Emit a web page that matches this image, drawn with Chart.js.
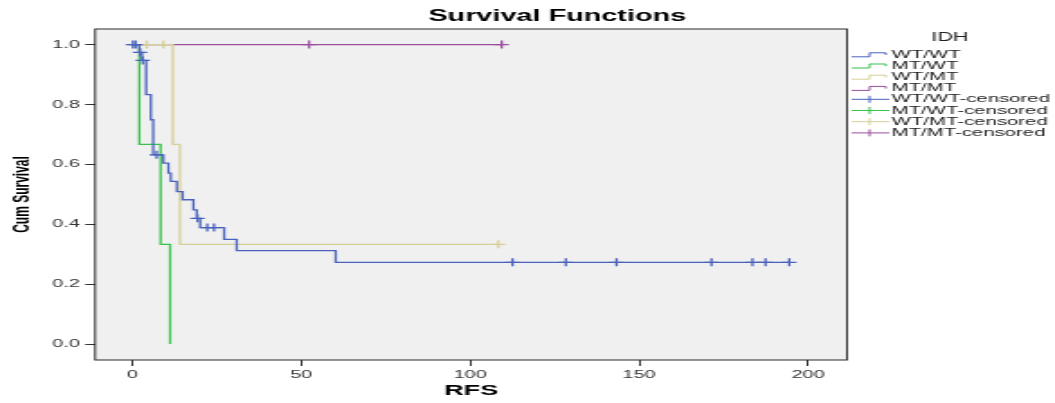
<!DOCTYPE html>
<html>
<head>
<meta charset="utf-8">
<script src="https://cdn.jsdelivr.net/npm/chart.js@4.4.1/dist/chart.umd.min.js"></script>
<style>
  html, body { margin: 0; padding: 0; background: #fff; overflow: hidden; }
  #wrap { width: 1055px; height: 403px; overflow: hidden; }
  /* the chart is laid out narrow and stretched sideways to the page width */
  #km { display: block; transform: scaleX(1.8003); transform-origin: 0 0; }
</style>
</head>
<body>
<div id="wrap"><canvas id="km" width="586" height="403"></canvas></div>
<script>
const FONT = '"Liberation Sans", Arial, Helvetica, sans-serif';
const NARROW = '"Liberation Sans Narrow", "Arial Narrow", "Liberation Sans", Arial, sans-serif';

const groups = ['WT/WT', 'MT/WT', 'WT/MT', 'MT/MT'];
const colors = ['#4a62bd', '#37c24b', '#d7cf98', '#9b4ea0'];

// Kaplan-Meier steps: time of each drop and the survival right after it
const wtwtTime = [0, 2.1, 2.9, 4.1, 5.5, 6.2, 9.2, 10.7, 11.4, 13.2, 14.9, 18.1, 19.1, 20.1, 27.2, 30.9, 60.2, 194.4];
const wtwtSurv = [1, 0.974, 0.947, 0.833, 0.749, 0.632, 0.604, 0.571, 0.543, 0.509, 0.482, 0.448, 0.420, 0.389, 0.350, 0.312, 0.273, 0.273];
const mtwtTime = [0, 2.1, 8.4, 11.2];
const mtwtSurv = [1, 0.667, 0.333, 0];
const wtmtTime = [0, 12.0, 14.1, 108.3];
const wtmtSurv = [1, 0.667, 0.333, 0.333];
const mtmtTime = [0, 109.3];
const mtmtSurv = [1, 1];

// censored cases
const wtwtCensTime = [0.2, 1.0, 2.3, 3.1, 7.2, 19.3, 22.2, 24.2, 112.5, 128.3, 143.3, 171.4, 183.5, 187.4, 194.4];
const wtwtCensSurv = [1, 1, 0.974, 0.947, 0.632, 0.420, 0.389, 0.389, 0.273, 0.273, 0.273, 0.273, 0.273, 0.273, 0.273];
const mtwtCensTime = [];
const mtwtCensSurv = [];
const wtmtCensTime = [4.3, 9.2, 108.3];
const wtmtCensSurv = [1, 1, 0.333];
const mtmtCensTime = [52.3, 109.3];
const mtmtCensSurv = [1, 1];

const xTicks = [0, 50, 100, 150, 200];
const yTicks = [0, 0.2, 0.4, 0.6, 0.8, 1.0];

const pts = (t, s) => t.map((v, i) => ({ x: v, y: s[i] }));

const curves = [[wtwtTime, wtwtSurv], [mtwtTime, mtwtSurv], [wtmtTime, wtmtSurv], [mtmtTime, mtmtSurv]];
const censored = [[wtwtCensTime, wtwtCensSurv], [mtwtCensTime, mtwtCensSurv], [wtmtCensTime, wtmtCensSurv], [mtmtCensTime, mtmtCensSurv]];

const datasets = [];
censored.forEach(([t, s], i) => datasets.push({
  type: 'scatter',
  label: groups[i] + '-censored',
  data: pts(t, s),
  showLine: false,
  pointStyle: 'cross',
  pointRadius: 4,
  pointHoverRadius: 4,
  pointBorderWidth: 1.3,
  pointBorderColor: colors[i],
  pointBackgroundColor: colors[i],
  order: i
}));
curves.forEach(([t, s], i) => datasets.push({
  type: 'line',
  label: groups[i],
  data: pts(t, s),
  stepped: true,
  borderColor: colors[i],
  borderWidth: 1.3,
  pointRadius: 0,
  fill: false,
  order: 10 + i
}));

// plot background, frame, title and the IDH legend
const decor = {
  id: 'decor',
  beforeDraw(chart) {
    const { ctx, chartArea: a } = chart;
    ctx.save();
    ctx.fillStyle = '#fff';
    ctx.fillRect(0, 0, chart.width, chart.height);
    ctx.fillStyle = '#f0f0f0';
    ctx.fillRect(a.left, a.top, a.right - a.left, a.bottom - a.top);
    ctx.restore();
  },
  afterDraw(chart) {
    const { ctx, chartArea: a } = chart;
    ctx.save();
    ctx.strokeStyle = '#2b2b2b';
    ctx.lineWidth = 1;
    ctx.strokeRect(a.left, a.top, a.right - a.left, a.bottom - a.top);

    ctx.fillStyle = '#000';
    ctx.textAlign = 'center';
    ctx.textBaseline = 'middle';
    ctx.font = 'bold 16px ' + FONT;
    ctx.fillText('Survival Functions', 309.5, 17);

    ctx.fillStyle = '#222';
    ctx.font = '12px ' + FONT;
    ctx.fillText('IDH', 527.7, 38);

    const x0 = 473, x1 = 494, y0 = 54.5, dy = 11.2;
    ctx.font = '11.3px ' + FONT;
    ctx.textAlign = 'left';
    ctx.lineWidth = 1;
    groups.forEach((g, i) => {
      const y = y0 + dy * i;
      ctx.strokeStyle = colors[i];
      ctx.beginPath();
      ctx.moveTo(x0, y + 2.3);
      ctx.lineTo(483, y + 2.3);
      ctx.lineTo(483, y - 1.7);
      ctx.lineTo(492, y - 1.7);
      ctx.lineTo(492, y + 0.5);
      ctx.stroke();
      ctx.fillStyle = '#222';
      ctx.fillText(g, 495.3, y);
    });
    groups.forEach((g, i) => {
      const y = y0 + dy * (i + 4);
      ctx.strokeStyle = colors[i];
      ctx.beginPath();
      ctx.moveTo(x0, y);
      ctx.lineTo(x1, y);
      ctx.moveTo(483, y - 3.5);
      ctx.lineTo(483, y + 3.5);
      ctx.stroke();
      ctx.fillStyle = '#222';
      ctx.fillText(g + '-censored', 495.3, y);
    });
    ctx.restore();
  }
};

new Chart(document.getElementById('km'), {
  data: { datasets },
  options: {
    responsive: false,
    animation: false,
    events: [],
    layout: { padding: { top: 29, right: 115.5, bottom: 0, left: 0 } },
    plugins: { legend: { display: false }, tooltip: { enabled: false } },
    scales: {
      x: {
        type: 'linear',
        min: -11,
        max: 211.5,
        afterBuildTicks: s => { s.ticks = xTicks.map(v => ({ value: v })); },
        afterFit: s => { s.height = 43; },
        grid: { drawOnChartArea: false, drawTicks: true, tickLength: 6, color: '#333' },
        border: { display: false },
        ticks: { font: { family: FONT, size: 11 }, color: '#333', padding: 2, maxRotation: 0, autoSkip: false },
        title: { display: true, text: 'RFS', color: '#000', font: { family: FONT, size: 15, weight: 'bold' }, padding: { top: 0, bottom: 3 } }
      },
      y: {
        type: 'linear',
        min: -0.053,
        max: 1.052,
        afterBuildTicks: s => { s.ticks = yTicks.map(v => ({ value: v })); },
        afterFit: s => { s.width = 52.8; },
        grid: { drawOnChartArea: false, drawTicks: true, tickLength: 5.5, color: '#333' },
        border: { display: false },
        ticks: { font: { family: FONT, size: 11 }, color: '#333', padding: 3, callback: v => v.toFixed(1) },
        title: { display: true, text: 'Cum Survival', color: '#000', font: { family: NARROW, size: 12, weight: 'bold' }, padding: { top: 5, bottom: 0 } }
      }
    }
  },
  plugins: [decor]
});
</script>
</body>
</html>
